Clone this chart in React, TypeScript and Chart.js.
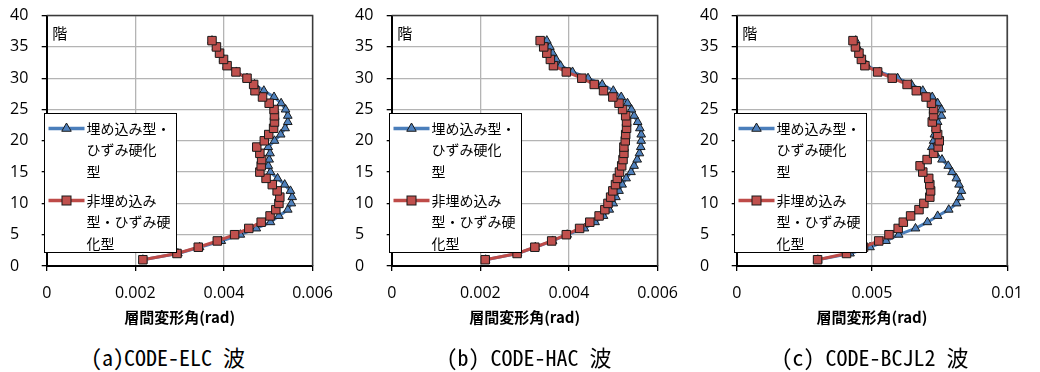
import React, { useEffect, useRef } from 'react';
import { Chart, registerables } from 'chart.js';

Chart.register(...registerables);

// ---------- data ----------
const floors = [1, 2, 3, 4, 5, 6, 7, 8, 9, 10, 11, 12, 13, 14, 15, 16, 17, 18, 19, 20, 21, 22, 23, 24, 25, 26, 27, 28, 29, 30, 31, 32, 33, 34, 35, 36];

const seriesNames = ['埋め込み型・ひずみ硬化型', '非埋め込み型・ひずみ硬化型'];
const legendLines = [
  ['埋め込み型・', 'ひずみ硬化', '型'],
  ['非埋め込み', '型・ひずみ硬', '化型'],
];

const elcEmbedded = [0.00217, 0.00296, 0.00345, 0.00394, 0.00437, 0.00473, 0.00505, 0.00524, 0.00544, 0.00552, 0.00554, 0.0055, 0.00537, 0.00521, 0.00505, 0.005, 0.00502, 0.00504, 0.005, 0.00514, 0.00528, 0.00538, 0.00544, 0.00544, 0.00539, 0.00529, 0.00513, 0.0049, 0.00469, 0.00452, 0.00428, 0.00407, 0.00399, 0.00391, 0.00383, 0.00373];
const elcNonEmbedded = [0.00217, 0.00294, 0.00342, 0.00385, 0.00424, 0.00456, 0.00484, 0.00504, 0.00517, 0.00524, 0.00526, 0.0052, 0.00509, 0.00495, 0.00481, 0.00484, 0.00485, 0.00481, 0.00474, 0.00491, 0.00501, 0.00512, 0.00514, 0.00514, 0.00513, 0.00502, 0.00487, 0.0047, 0.00467, 0.00452, 0.00427, 0.00407, 0.00399, 0.0039, 0.00383, 0.00373];

const hacEmbedded = [0.00212, 0.00284, 0.00324, 0.00363, 0.00396, 0.00435, 0.00459, 0.00478, 0.00491, 0.005, 0.00506, 0.00513, 0.0052, 0.00529, 0.0054, 0.00547, 0.00554, 0.00559, 0.00562, 0.00563, 0.00563, 0.0056, 0.00555, 0.00547, 0.00541, 0.00532, 0.00518, 0.005, 0.00475, 0.00443, 0.00408, 0.00381, 0.00371, 0.00363, 0.00357, 0.0035];
const hacNonEmbedded = [0.00211, 0.00283, 0.00323, 0.00361, 0.00394, 0.00424, 0.00447, 0.00468, 0.00481, 0.00488, 0.00494, 0.00499, 0.00505, 0.00509, 0.00514, 0.00519, 0.00522, 0.00524, 0.00524, 0.00527, 0.00528, 0.0053, 0.0053, 0.00528, 0.00521, 0.00513, 0.00499, 0.00478, 0.00457, 0.00429, 0.00394, 0.00365, 0.00358, 0.0035, 0.00343, 0.00335];

const bcjEmbedded = [0.003, 0.00419, 0.00493, 0.00552, 0.00599, 0.00661, 0.00705, 0.00743, 0.00784, 0.00813, 0.00826, 0.00831, 0.00822, 0.00812, 0.00796, 0.00782, 0.00759, 0.00734, 0.00721, 0.00728, 0.00731, 0.00737, 0.00743, 0.00757, 0.00757, 0.00743, 0.00723, 0.00688, 0.00646, 0.00595, 0.00528, 0.00481, 0.00465, 0.00454, 0.00446, 0.0044];
const bcjNonEmbedded = [0.00299, 0.00406, 0.00469, 0.00525, 0.00563, 0.00597, 0.00616, 0.00643, 0.00674, 0.00692, 0.00714, 0.00717, 0.00714, 0.0071, 0.00688, 0.00678, 0.00704, 0.00728, 0.00745, 0.00749, 0.00743, 0.00737, 0.00723, 0.00728, 0.00728, 0.0072, 0.007, 0.00664, 0.0063, 0.00575, 0.00521, 0.00474, 0.00461, 0.00452, 0.00439, 0.0043];

const yTicks = [0, 5, 10, 15, 20, 25, 30, 35, 40];
const xTicksSmall = [0, 0.002, 0.004, 0.006];
const xTickLabelsSmall = ['0', '0.002', '0.004', '0.006'];
const xTicksLarge = [0, 0.005, 0.01];
const xTickLabelsLarge = ['0', '0.005', '0.01'];

const captions = ['(a)CODE-ELC 波', '(b) CODE-HAC 波', '(c) CODE-BCJL2 波'];
const axisTitle = '層間変形角(rad)';
const yUnitLabel = '階';

// ---------- styling ----------
const BLUE_LINE = '#4A7EBB';
const BLUE_FILL = '#4F81BD';
const RED_LINE = '#BE4B48';
const RED_FILL = '#C0504D';
const CJK = '"Noto Sans CJK JP", sans-serif';
const TICK_FONT = '"Open Sans", "Noto Sans", sans-serif';

Chart.defaults.font.family = TICK_FONT;
Chart.defaults.color = '#000';

const CANVAS_W = 346;
const CANVAS_H = 330;
const PLOT_LEFT = 46.7;
const PLOT_TOP = 13.7;
const PLOT_BOTTOM = 266;

function drawTriangle(ctx: CanvasRenderingContext2D, x: number, y: number, r: number) {
  ctx.beginPath();
  ctx.moveTo(x, y - r);
  ctx.lineTo(x + r * 0.866, y + r * 0.5);
  ctx.lineTo(x - r * 0.866, y + r * 0.5);
  ctx.closePath();
  ctx.fillStyle = BLUE_FILL;
  ctx.fill();
  ctx.strokeStyle = '#1a1a1a';
  ctx.lineWidth = 1;
  ctx.stroke();
}

function drawSquare(ctx: CanvasRenderingContext2D, x: number, y: number, s: number) {
  ctx.fillStyle = RED_FILL;
  ctx.fillRect(x - s / 2, y - s / 2, s, s);
  ctx.strokeStyle = '#1a1a1a';
  ctx.lineWidth = 1;
  ctx.strokeRect(x - s / 2, y - s / 2, s, s);
}

const decorPlugin = {
  id: 'decor',
  afterDraw(chart: any) {
    const { ctx, chartArea } = chart;
    const { left, right, top, bottom } = chartArea;
    ctx.save();
    // top and right frame
    ctx.strokeStyle = '#3a3a3a';
    ctx.lineWidth = 1.5;
    ctx.beginPath();
    ctx.moveTo(left, top);
    ctx.lineTo(right, top);
    ctx.lineTo(right, bottom);
    ctx.stroke();
    // unit label
    ctx.fillStyle = '#000';
    ctx.font = '15px ' + CJK;
    ctx.textBaseline = 'middle';
    ctx.textAlign = 'left';
    ctx.fillText(yUnitLabel, left + 5.5, top + 17.5);
    // legend box
    const bx = Math.round(left - 3) + 0.5;
    const by = 113.5;
    const bw = 132;
    const bh = 139;
    ctx.fillStyle = '#fff';
    ctx.fillRect(bx, by, bw, bh);
    ctx.strokeStyle = '#000';
    ctx.lineWidth = 1;
    ctx.strokeRect(bx, by, bw, bh);
    const entryY = [128.5, 200.5];
    const colors = [BLUE_LINE, RED_LINE];
    for (let i = 0; i < 2; i++) {
      const y = entryY[i];
      ctx.strokeStyle = colors[i];
      ctx.lineWidth = 3.5;
      ctx.beginPath();
      ctx.moveTo(bx + 4, y);
      ctx.lineTo(bx + 40, y);
      ctx.stroke();
      if (i === 0) drawTriangle(ctx, bx + 22, y, 5.5);
      else drawSquare(ctx, bx + 22, y, 9);
      ctx.fillStyle = '#000';
      ctx.font = '14px ' + CJK;
      ctx.textBaseline = 'middle';
      ctx.textAlign = 'left';
      legendLines[i].forEach((t, k) => {
        ctx.fillText(t, bx + 42, y + k * 21.5);
      });
    }
    ctx.restore();
  },
};

type PanelProps = {
  offset: number;
  plotRight: number;
  xMax: number;
  xTicks: number[];
  xLabels: string[];
  embedded: number[];
  nonEmbedded: number[];
  caption: string;
  captionCenter: number;
};

function Panel(p: PanelProps) {
  const ref = useRef<HTMLCanvasElement>(null);
  useEffect(() => {
    if (!ref.current) return;
    const chart = new Chart(ref.current, {
      type: 'line',
      data: {
        datasets: [
          {
            label: seriesNames[0],
            data: floors.map((f, i) => ({ x: p.embedded[i], y: f })),
            borderColor: BLUE_LINE,
            backgroundColor: BLUE_FILL,
            borderWidth: 3,
            pointStyle: 'triangle',
            pointRadius: 5,
            pointBackgroundColor: BLUE_FILL,
            pointBorderColor: '#1a1a1a',
            pointBorderWidth: 1,
            tension: 0,
            order: 2,
          },
          {
            label: seriesNames[1],
            data: floors.map((f, i) => ({ x: p.nonEmbedded[i], y: f })),
            borderColor: RED_LINE,
            backgroundColor: RED_FILL,
            borderWidth: 3,
            pointStyle: 'rect',
            pointRadius: 6,
            pointBackgroundColor: RED_FILL,
            pointBorderColor: '#1a1a1a',
            pointBorderWidth: 1,
            tension: 0,
            order: 1,
          },
        ],
      },
      options: {
        animation: false,
        responsive: false,
        maintainAspectRatio: false,
        layout: {
          padding: { left: 10, right: CANVAS_W - p.plotRight, top: PLOT_TOP, bottom: 0 },
        },
        plugins: { legend: { display: false }, tooltip: { enabled: false } },
        scales: {
          x: {
            type: 'linear',
            min: 0,
            max: p.xMax,
            afterBuildTicks: (s: any) => {
              s.ticks = p.xTicks.map((v) => ({ value: v }));
            },
            afterFit: (s: any) => {
              s.height = CANVAS_H - PLOT_BOTTOM;
            },
            ticks: {
              callback: (_v: any, i: number) => p.xLabels[i],
              font: { size: 16, family: TICK_FONT },
              color: '#000',
              padding: 13,
              maxRotation: 0,
              autoSkip: false,
            },
            grid: {
              color: '#b4b4b4',
              lineWidth: 1.3,
              tickColor: '#000',
              tickLength: 5,
              drawTicks: true,
            },
            border: { color: '#000', width: 2 },
            title: {
              display: true,
              text: axisTitle,
              font: { size: 15, weight: 'bold', family: CJK },
              color: '#000',
              padding: { top: 0, bottom: 4 },
            },
          },
          y: {
            type: 'linear',
            min: 0,
            max: 40,
            afterBuildTicks: (s: any) => {
              s.ticks = yTicks.map((v) => ({ value: v }));
            },
            afterFit: (s: any) => {
              s.width = PLOT_LEFT - 10;
            },
            ticks: {
              crossAlign: 'far',
              font: { size: 16, family: TICK_FONT },
              color: '#000',
              padding: 6,
            },
            grid: {
              color: '#b4b4b4',
              lineWidth: 1.3,
              tickColor: '#000',
              tickLength: 5,
            },
            border: { color: '#000', width: 2 },
          },
        },
      } as any,
      plugins: [decorPlugin],
    });
    return () => chart.destroy();
  }, []);

  return (
    <>
      <div style={{ position: 'absolute', left: p.offset, top: 0, width: CANVAS_W, height: CANVAS_H }}>
        <canvas ref={ref} width={CANVAS_W} height={CANVAS_H} style={{ width: CANVAS_W, height: CANVAS_H, display: 'block' }} />
      </div>
      <div
        style={{
          position: 'absolute',
          left: p.captionCenter - 150,
          width: 300,
          top: 344,
          textAlign: 'center',
          fontFamily: '"Noto Sans Mono CJK JP", "Noto Sans CJK JP", monospace',
          fontSize: 22,
          lineHeight: '24px',
          color: '#000',
          whiteSpace: 'pre',
        }}
      >
        {p.caption}
      </div>
    </>
  );
}

export default function App() {
  return (
    <div style={{ position: 'absolute', left: 0, top: 0, width: 1040, height: 372, background: '#fff', overflow: 'hidden' }}>
      <Panel offset={0} plotRight={324} xMax={0.006} xTicks={xTicksSmall} xLabels={xTickLabelsSmall} embedded={elcEmbedded} nonEmbedded={elcNonEmbedded} caption={captions[0]} captionCenter={168} />
      <Panel offset={345} plotRight={325} xMax={0.006} xTicks={xTicksSmall} xLabels={xTickLabelsSmall} embedded={hacEmbedded} nonEmbedded={hacNonEmbedded} caption={captions[1]} captionCenter={529} />
      <Panel offset={690} plotRight={330.7} xMax={0.01} xTicks={xTicksLarge} xLabels={xTickLabelsLarge} embedded={bcjEmbedded} nonEmbedded={bcjNonEmbedded} caption={captions[2]} captionCenter={875} />
    </div>
  );
}
